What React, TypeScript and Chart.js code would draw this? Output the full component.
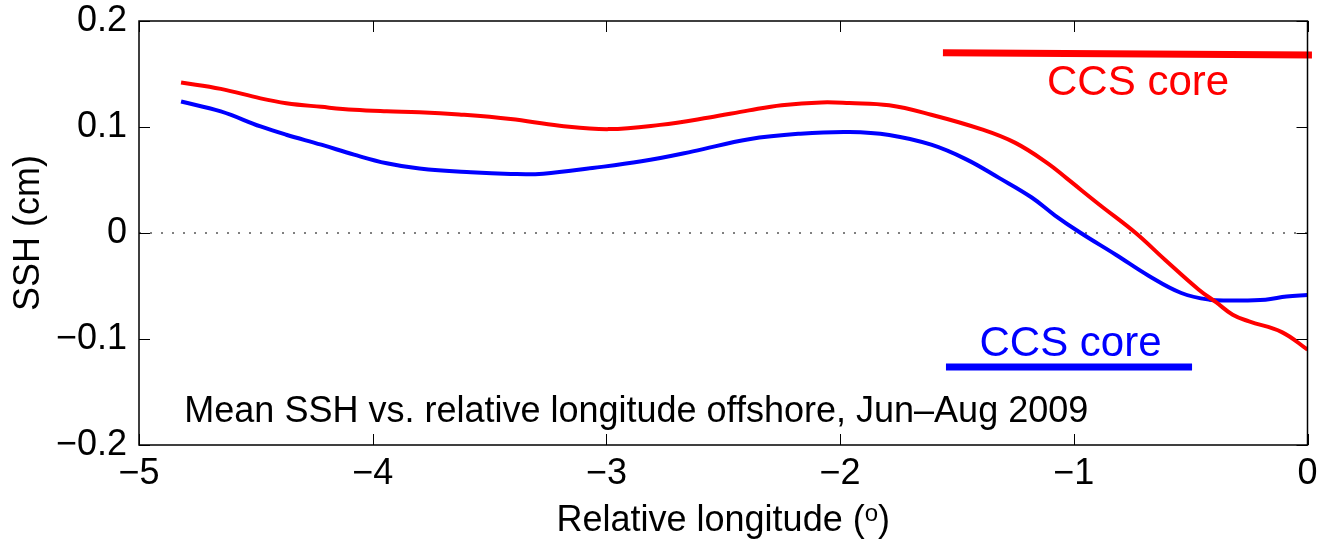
import React, { useEffect, useRef } from "react";
import { Chart, registerables } from "chart.js";

Chart.register(...registerables);

// Relative longitude (deg) and mean SSH (cm)
const redLon = [-4.82, -4.65, -4.48, -4.37, -4.22, -4.08, -3.94, -3.80, -3.63, -3.41, -3.20, -2.99, -2.77, -2.56, -2.39, -2.25, -2.08, -1.96, -1.79, -1.61, -1.39, -1.25, -1.11, -1.03, -0.89, -0.735, -0.61, -0.465, -0.39, -0.32, -0.25, -0.11, 0];
const redSSH = [0.142, 0.136, 0.127, 0.1225, 0.119, 0.1162, 0.1148, 0.114, 0.1118, 0.1075, 0.1012, 0.098, 0.102, 0.109, 0.1157, 0.1205, 0.1232, 0.1226, 0.1205, 0.1116, 0.0975, 0.085, 0.0655, 0.0515, 0.0267, 0.0, -0.0252, -0.0535, -0.0655, -0.0771, -0.0834, -0.0935, -0.11];

const blueLon = [-4.82, -4.65, -4.48, -4.37, -4.22, -4.08, -3.94, -3.80, -3.58, -3.41, -3.27, -3.06, -2.85, -2.63, -2.39, -2.17, -1.96, -1.79, -1.61, -1.46, -1.32, -1.18, -1.08, -0.97, -0.82, -0.68, -0.54, -0.42, -0.32, -0.18, -0.09, 0];
const blueSSH = [0.124, 0.1147, 0.1005, 0.0927, 0.0833, 0.0739, 0.0658, 0.0608, 0.0572, 0.0557, 0.056, 0.0613, 0.0676, 0.077, 0.0885, 0.0937, 0.0953, 0.0925, 0.0833, 0.0695, 0.052, 0.0335, 0.0165, 0.0, -0.0205, -0.0403, -0.0566, -0.0629, -0.0636, -0.0629, -0.0598, -0.0585];

// CCS core markers
const redCoreLon = [-1.56, 0.019];
const redCoreSSH = [0.170, 0.168];
const blueCoreLon = [-1.547, -0.494];
const blueCoreSSH = [-0.1264, -0.1264];

// Zero reference
const zeroLon = [-5, 0];
const zeroSSH = [0, 0];

// Text annotations (data coordinates)
const redLabelPos = [-0.725, 0.1306];
const blueLabelPos = [-1.014, -0.1164];
const notePos = [-4.806, -0.1787];
const noteText = "Mean SSH vs. relative longitude offshore, Jun\u2013Aug 2009";
const coreText = "CCS core";

// Axis setup
const xMin = -5, xMax = 0, xStep = 1;
const yMin = -0.2, yMax = 0.2, yStep = 0.1;
const xTitle = "Relative longitude (";
const xTitleSup = "o";
const xTitleEnd = ")";
const yTitle = "SSH (cm)";

const FONT = "'Liberation Sans', Arial, Helvetica, sans-serif";
const RED = "#ff0000";
const BLUE = "#0000ff";

const pts = (xs: number[], ys: number[]) => xs.map((x, i) => ({ x, y: ys[i] }));

const fmtMinus = (v: number, digits: number) => {
  const r = Math.round(v * 10) / 10;
  if (Math.abs(r) < 1e-9) return "0";
  const s = Math.abs(r).toFixed(digits);
  return r < 0 ? "\u2212" + s : s;
};

const framePlugin = {
  id: "frameAndText",
  afterDatasetsDraw(chart: any) {
    const { ctx, chartArea: a, scales } = chart;
    const x = scales.x;
    const y = scales.y;
    ctx.save();
    // inward ticks on all four sides
    ctx.strokeStyle = "#000";
    ctx.lineWidth = 1;
    const tl = 11;
    ctx.beginPath();
    x.ticks.forEach((t: any) => {
      const px = Math.round(x.getPixelForValue(t.value)) + 0.5;
      ctx.moveTo(px, a.bottom);
      ctx.lineTo(px, a.bottom - tl);
      ctx.moveTo(px, a.top);
      ctx.lineTo(px, a.top + tl);
    });
    y.ticks.forEach((t: any) => {
      const py = Math.round(y.getPixelForValue(t.value)) + 0.5;
      ctx.moveTo(a.left, py);
      ctx.lineTo(a.left + tl, py);
      ctx.moveTo(a.right, py);
      ctx.lineTo(a.right - tl, py);
    });
    ctx.stroke();
    // box
    ctx.lineWidth = 1.5;
    ctx.strokeRect(a.left, a.top, a.right - a.left, a.bottom - a.top);

    // CCS core labels
    ctx.font = `42px ${FONT}`;
    ctx.textAlign = "center";
    ctx.textBaseline = "alphabetic";
    ctx.fillStyle = RED;
    ctx.fillText(coreText, x.getPixelForValue(redLabelPos[0]), y.getPixelForValue(redLabelPos[1]));
    ctx.fillStyle = BLUE;
    ctx.fillText(coreText, x.getPixelForValue(blueLabelPos[0]), y.getPixelForValue(blueLabelPos[1]));

    // note
    ctx.font = `36px ${FONT}`;
    ctx.textAlign = "left";
    ctx.fillStyle = "#000";
    ctx.fillText(noteText, x.getPixelForValue(notePos[0]), y.getPixelForValue(notePos[1]));

    // x axis title with superscript
    const cx = (a.left + a.right) / 2;
    const base = 531;
    ctx.font = `36px ${FONT}`;
    const w1 = ctx.measureText(xTitle).width;
    const w3 = ctx.measureText(xTitleEnd).width;
    ctx.font = `24px ${FONT}`;
    const w2 = ctx.measureText(xTitleSup).width;
    const total = w1 + w2 + w3;
    let sx = cx - total / 2;
    ctx.font = `36px ${FONT}`;
    ctx.fillText(xTitle, sx, base);
    sx += w1;
    ctx.font = `24px ${FONT}`;
    ctx.fillText(xTitleSup, sx, base - 10);
    sx += w2;
    ctx.font = `36px ${FONT}`;
    ctx.fillText(xTitleEnd, sx, base);
    ctx.restore();
  },
};

export default function App() {
  const ref = useRef<HTMLCanvasElement | null>(null);

  useEffect(() => {
    if (!ref.current) return;
    const chart = new Chart(ref.current, {
      type: "line",
      data: {
        datasets: [
          {
            data: pts(redLon, redSSH),
            borderColor: RED,
            borderWidth: 4,
            pointRadius: 0,
            tension: 0.4,
            fill: false,
          },
          {
            data: pts(blueLon, blueSSH),
            borderColor: BLUE,
            borderWidth: 4,
            pointRadius: 0,
            tension: 0.4,
            fill: false,
          },
          {
            data: pts(redCoreLon, redCoreSSH),
            borderColor: RED,
            borderWidth: 7,
            pointRadius: 0,
            tension: 0,
            clip: false,
            fill: false,
          },
          {
            data: pts(blueCoreLon, blueCoreSSH),
            borderColor: BLUE,
            borderWidth: 7,
            pointRadius: 0,
            tension: 0,
            fill: false,
          },
          {
            data: pts(zeroLon, zeroSSH),
            borderColor: "#000",
            borderWidth: 1,
            borderDash: [2, 9],
            pointRadius: 0,
            tension: 0,
            fill: false,
          },
        ],
      } as any,
      options: {
        animation: false,
        responsive: false,
        maintainAspectRatio: false,
        layout: { padding: { left: 0, right: 14.5, top: 21, bottom: 0 } },
        plugins: {
          legend: { display: false },
          tooltip: { enabled: false },
          title: { display: false },
        },
        scales: {
          x: {
            type: "linear",
            min: xMin,
            max: xMax,
            afterFit: (s: any) => {
              s.height = 97;
              s.paddingLeft = 0;
              s.paddingRight = 0;
              s.paddingTop = 0;
              s.paddingBottom = 0;
            },
            ticks: {
              stepSize: xStep,
              padding: 7,
              color: "#000",
              font: { family: FONT, size: 36 },
              maxRotation: 0,
              callback: (v: any) => fmtMinus(Number(v), 0),
            },
            grid: { display: false, drawTicks: false },
            border: { display: false },
          },
          y: {
            type: "linear",
            min: yMin,
            max: yMax,
            afterFit: (s: any) => {
              s.width = 139;
              s.paddingLeft = 0;
              s.paddingRight = 0;
              s.paddingTop = 0;
              s.paddingBottom = 0;
            },
            ticks: {
              stepSize: yStep,
              padding: 12,
              color: "#000",
              font: { family: FONT, size: 36 },
              callback: (v: any) => fmtMinus(Number(v), 1),
            },
            title: {
              display: true,
              text: yTitle,
              color: "#000",
              font: { family: FONT, size: 36 },
              padding: { top: 7, bottom: 0 },
            },
            grid: { display: false, drawTicks: false },
            border: { display: false },
          },
        },
      } as any,
      plugins: [framePlugin],
    });
    return () => chart.destroy();
  }, []);

  return (
    <div style={{ position: "absolute", left: 0, top: 0, width: 1322, height: 542, background: "#fff" }}>
      <canvas ref={ref} width={1322} height={542} style={{ display: "block" }} />
    </div>
  );
}
